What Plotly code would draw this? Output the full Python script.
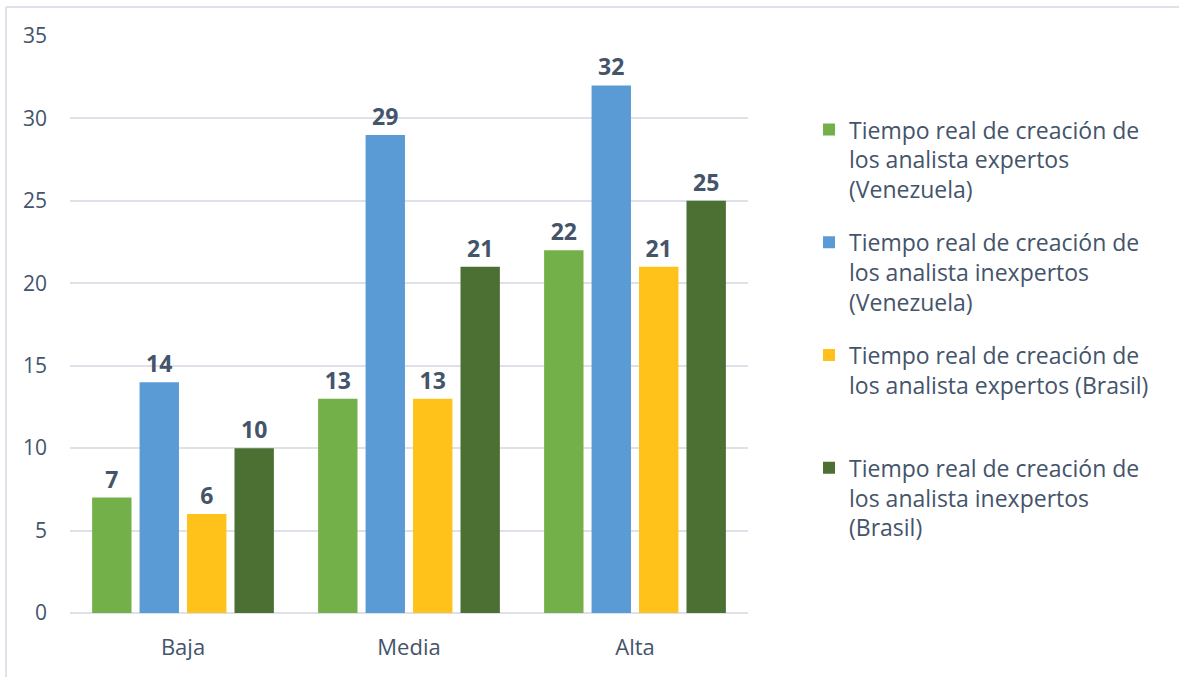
import plotly.graph_objects as go

# Complexity levels on the x axis
categories = ["Baja", "Media", "Alta"]

# Series labels (one per bar colour)
series_names = [
    "Tiempo real de creación de<br>los analista expertos<br>(Venezuela)",
    "Tiempo real de creación de<br>los analista inexpertos<br>(Venezuela)",
    "Tiempo real de creación de<br>los analista expertos (Brasil)<br> ",
    "Tiempo real de creación de<br>los analista inexpertos<br>(Brasil)",
]

# Values per series
expertos_venezuela = [7, 13, 22]
inexpertos_venezuela = [14, 29, 32]
expertos_brasil = [6, 13, 21]
inexpertos_brasil = [10, 21, 25]

series_values = [expertos_venezuela, inexpertos_venezuela, expertos_brasil, inexpertos_brasil]
series_colors = ["#74B04A", "#5B9BD5", "#FFC21A", "#4C7034"]

y_ticks = [0, 5, 10, 15, 20, 25, 30, 35]

text_color = "#44546A"
font_family = "'Open Sans', 'Noto Sans', sans-serif"

fig = go.Figure()
for i, (name, vals, col) in enumerate(zip(series_names, series_values, series_colors)):
    fig.add_trace(go.Bar(
        x=categories,
        y=vals,
        name=name,
        legendgroup=f"g{i}",
        marker=dict(color=col, line=dict(width=0)),
        texttemplate="<b>%{y}</b>",
        textposition="outside",
        textfont=dict(size=23, color=text_color, family=font_family),
        cliponaxis=False,
    ))

fig.update_layout(
    width=1179,
    height=677,
    margin=dict(l=70, r=431, t=36, b=64),
    paper_bgcolor="white",
    plot_bgcolor="white",
    barmode="group",
    bargap=0.16,
    bargroupgap=0.17,
    font=dict(family=font_family, color=text_color),
    showlegend=True,
    legend=dict(
        x=1.09,
        xanchor="left",
        y=0.875,
        yanchor="top",
        valign="top",
        itemwidth=30,
        tracegroupgap=20,
        traceorder="grouped",
        font=dict(size=23, color=text_color, family=font_family),
        bgcolor="rgba(0,0,0,0)",
    ),
    xaxis=dict(
        showline=False,
        showgrid=False,
        ticks="",
        tickfont=dict(size=22, color=text_color),
        ticklabelstandoff=19,
    ),
    yaxis=dict(
        range=[0, 35],
        tickvals=y_ticks,
        showgrid=True,
        gridcolor="#DDE2EA",
        gridwidth=2,
        zeroline=True,
        zerolinecolor="#DDE2EA",
        zerolinewidth=2,
        showline=False,
        ticks="",
        tickfont=dict(size=21, color=text_color),
        ticklabelstandoff=22,
    ),
)

# Outer chart border (top and left edges)
fig.add_shape(type="line", xref="paper", yref="paper",
              x0=-64 / 678, x1=1.7, y0=1 + 29 / 577, y1=1 + 29 / 577,
              line=dict(color="#DDE2EA", width=2), layer="below")
fig.add_shape(type="line", xref="paper", yref="paper",
              x0=-64 / 678, x1=-64 / 678, y0=-0.2, y1=1 + 29 / 577,
              line=dict(color="#DDE2EA", width=2), layer="below")

fig.write_html("out.html")
